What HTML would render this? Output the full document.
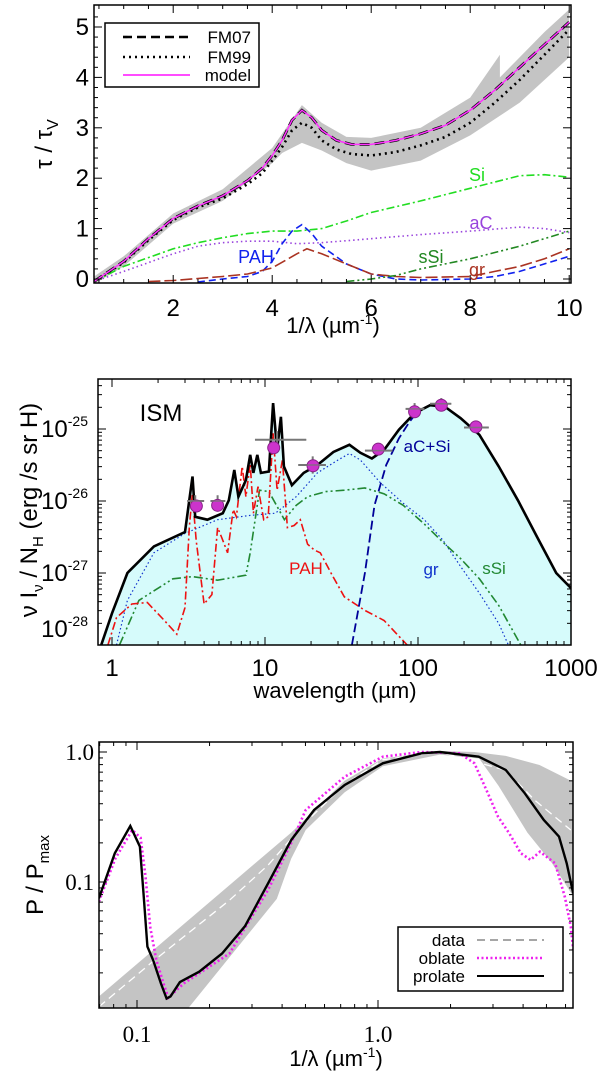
<!DOCTYPE html>
<html><head><meta charset="utf-8">
<style>
html,body{margin:0;padding:0;background:#fff;}
svg{display:block;font-family:"Liberation Sans",sans-serif;}
</style></head>
<body>
<svg id="fig" width="600" height="1076" viewBox="0 0 600 1076" xmlns="http://www.w3.org/2000/svg">
<defs>
<clipPath id="c1"><rect x="94" y="5" width="477" height="278"/></clipPath>
<clipPath id="c2"><rect x="98" y="379" width="473" height="266"/></clipPath>
<clipPath id="c3"><rect x="99" y="742" width="474" height="266"/></clipPath>
</defs>
<g id="p1"></g>
<g id="p2"></g>
<g id="p3"></g>
</svg>
<script>
// ---------- Panel 1 data ----------
const modelX = [0.4,1,1.5,2,2.5,3,3.5,3.8,4,4.2,4.4,4.6,4.8,5,5.3,5.6,6,6.5,7,7.5,8,8.5,9,9.5,10];
const modelY = [-0.05,0.35,0.8,1.2,1.45,1.65,1.95,2.2,2.45,2.75,3.15,3.35,3.2,2.95,2.75,2.67,2.67,2.75,2.88,3.05,3.35,3.75,4.2,4.65,5.1];
const fm99Y = [-0.05,0.33,0.77,1.17,1.42,1.6,1.88,2.1,2.35,2.62,2.95,3.1,3.0,2.75,2.57,2.48,2.45,2.52,2.65,2.82,3.1,3.5,3.95,4.45,4.95];
const bandUpX = [0.4,1,2,3,4,4.6,5,5.5,6,7,8,8.6,8.6,9,9.5,10];
const bandUpY = [0.05,0.45,1.3,1.78,2.6,3.45,3.1,2.82,2.8,3.0,3.6,4.45,4.0,4.4,4.9,5.35];
const bandLoX = [10,9,8,7,6,5.5,5,4.6,4.2,4,3,2,1,0.4];
const bandLoY = [4.4,3.5,2.85,2.35,2.15,2.3,2.55,2.7,2.5,2.3,1.55,1.1,0.25,-0.1];
const siX = [0.4,1,2,2.5,3,3.5,4,4.5,5,5.5,6,7,8,9,9.5,10];
const siY = [-0.05,0.25,0.6,0.72,0.82,0.9,0.95,0.95,1.0,1.15,1.32,1.55,1.8,2.05,2.07,2.02];
const acX = [0.4,1,2,2.5,3,3.5,4,4.5,5,6,7,8,9,9.5,10];
const acY = [-0.05,0.15,0.5,0.65,0.72,0.75,0.75,0.7,0.72,0.8,0.88,0.95,1.03,1.0,0.92];
const pahX = [2.5,3,3.5,3.8,4,4.2,4.4,4.6,4.8,5,5.5,6,6.5,7,8,8.5,9,9.5,10];
const pahY = [-0.06,0.0,0.05,0.15,0.35,0.7,0.95,1.08,0.9,0.65,0.3,0.1,0.0,-0.02,0.0,0.05,0.15,0.3,0.45];
const grX = [1.5,2,3,3.5,4,4.5,4.7,5,5.5,6,6.5,7,8,8.5,9,9.5,10];
const grY = [-0.05,-0.03,0.05,0.1,0.22,0.5,0.6,0.5,0.3,0.1,0.05,0.03,0.05,0.15,0.25,0.4,0.6];
const ssiX = [5.5,6,6.5,7,8,9,10];
const ssiY = [-0.05,0.0,0.07,0.2,0.4,0.65,0.95];
const p1XTicks = [2,4,6,8,10];
const p1YTicks = [0,1,2,3,4,5];

// ---------- Panel 2 data (log10 of flux) ----------
const totLam = [0.82,1.0,1.26,1.88,3.0,3.36,3.5,4.2,5.3,5.8,6.3,6.7,7.5,8.0,8.4,8.9,9.4,10.6,11.3,12,12.7,13.3,15,17.9,22,28,35.6,42,50,60,75,95,120,150,190,252,337,450,600,800,1000];
const totVal = [-28.1,-27.56,-27.0,-26.63,-26.43,-25.66,-26.22,-26.26,-26.17,-25.99,-25.57,-25.94,-25.71,-25.36,-25.61,-25.36,-25.61,-25.59,-24.64,-25.29,-24.83,-25.52,-25.78,-25.61,-25.5,-25.32,-25.22,-25.33,-25.41,-25.29,-25.01,-24.78,-24.67,-24.69,-24.85,-25.08,-25.52,-25.99,-26.5,-27.0,-27.21];
const grLam = [1.07,1.26,1.88,3.0,4.9,8,11.7,16,22,30,35.6,42,57,80,110,145,190,252,337,390];
const grVal = [-28,-27.38,-26.72,-26.45,-26.26,-26.2,-26.17,-25.94,-25.61,-25.43,-25.34,-25.43,-25.75,-26.03,-26.26,-26.54,-26.91,-27.28,-27.7,-28];
const ssiLam = [1.12,1.5,2.5,3.36,4.9,7.5,8,9.2,10.6,13.4,16,19,25,33,45,60,80,110,145,190,252,337,470];
const ssiVal = [-28,-27.38,-27.08,-27.05,-27.1,-27.03,-26.72,-25.85,-25.87,-26.26,-26.06,-25.94,-25.87,-25.85,-25.82,-25.9,-26.06,-26.32,-26.57,-26.8,-27.08,-27.45,-28];
const acsiLam = [37,45,52,62,75,88,100];
const acsiVal = [-28,-27.0,-26.06,-25.5,-25.13,-24.9,-24.75];
const pahLam = [0.94,1.07,1.35,1.7,2.2,2.65,3.0,3.2,3.35,3.55,4.0,4.5,4.9,5.2,5.7,6.2,6.5,7.1,7.5,8.0,8.4,9.0,9.8,10.5,11.3,12,13,14,15.5,17,19,21,23,27,33,45,60,85];
const pahVal = [-28,-27.62,-27.43,-27.41,-27.66,-27.85,-27.48,-26.37,-25.9,-26.55,-27.43,-27.3,-26.37,-26.5,-26.72,-26.12,-26.22,-25.52,-25.94,-25.48,-26.17,-25.8,-26.26,-26.22,-25.06,-25.85,-25.43,-26.37,-26.34,-26.26,-26.6,-26.68,-26.72,-27.0,-27.33,-27.52,-27.66,-28];
const obsLam = [3.5,4.9,12,20.5,55,95,142,240];
const obsVal = [-26.0,-26.0,-25.15,-25.5,-25.3,-24.72,-24.65,-24.98];
const obsLamLo = [3.1,4.4,8.6,16.5,45,83,120,200];
const obsLamHi = [4.0,5.5,18.6,25,68,110,165,290];
const obsErr = [0.08,0.08,0.12,0.12,0.03,0.08,0.08,0.08];
const modLam = [3.56,4.9,11.4,20.6,55,95,142,239];
const modVal = [-26.07,-26.06,-25.26,-25.51,-25.28,-24.76,-24.67,-24.97];
const p2XTicks = [1,10,100,1000];
const p2YTicks = [-28,-27,-26,-25];

// ---------- Panel 3 data (log10 values) ----------
const proX = [-1.158,-1.092,-1.028,-0.988,-0.973,-0.957,-0.933,-0.901,-0.877,-0.861,-0.822,-0.742,-0.647,-0.552,-0.456,-0.36,-0.265,-0.138,0.02,0.18,0.257,0.418,0.53,0.609,0.688,0.72,0.751,0.783,0.81];
const proY = [-1.125,-0.779,-0.569,-0.728,-1.087,-1.497,-1.6,-1.78,-1.896,-1.88,-1.77,-1.69,-1.55,-1.34,-1.01,-0.677,-0.446,-0.254,-0.087,-0.01,0.0,-0.036,-0.138,-0.318,-0.523,-0.587,-0.651,-0.856,-1.087];
const oblX = [-1.158,-1.09,-1.02,-0.985,-0.965,-0.945,-0.92,-0.89,-0.87,-0.806,-0.616,-0.456,-0.36,-0.3,-0.138,0.02,0.18,0.338,0.4,0.45,0.498,0.545,0.593,0.633,0.672,0.735,0.775,0.8,0.81];
const oblY = [-1.15,-0.82,-0.6,-0.66,-0.95,-1.35,-1.6,-1.78,-1.89,-1.78,-1.55,-1.06,-0.70,-0.446,-0.19,-0.036,0.0,-0.01,-0.087,-0.292,-0.497,-0.626,-0.779,-0.83,-0.767,-0.856,-1.113,-1.344,-1.52];
const datX = [-1.158,-0.933,-0.616,-0.456,-0.3,-0.138,0.02,0.257,0.53,0.65,0.8];
const datY = [-1.96,-1.61,-1.14,-0.87,-0.54,-0.25,-0.06,0.0,-0.14,-0.37,-0.6];
const b3UpX = [-1.158,-0.36,-0.138,0.02,0.257,0.40,0.53,0.67,0.81];
const b3UpY = [-1.88,-0.62,-0.22,-0.05,0.008,0.0,-0.03,-0.1,-0.23];
const b3LoX = [0.81,0.72,0.62,0.5,0.42,0.257,0.02,-0.138,-0.3,-0.36,-0.42,-0.822,-1.158];
const b3LoY = [-1.11,-0.85,-0.62,-0.26,-0.05,-0.02,-0.11,-0.31,-0.6,-0.82,-1.13,-2.05,-2.05];
const p3XTicks = [0.1,1.0];
const p3YTicks = [0.1,1.0];

// ---------- helpers ----------
const NS = "http://www.w3.org/2000/svg";
function mk(parent, tag, attrs){ const e=document.createElementNS(NS,tag); for(const k in attrs) e.setAttribute(k,attrs[k]); parent.appendChild(e); return e; }
function pathD(xs, ys, fx, fy){ let d=""; for(let i=0;i<xs.length;i++){ d+=(i?"L":"M")+fx(xs[i]).toFixed(1)+","+fy(ys[i]).toFixed(1); } return d; }
function txt(parent, x, y, s, size, anchor, fill, fam){ const t=mk(parent,"text",{x:x,y:y,"font-size":size,"text-anchor":anchor||"middle",fill:fill||"#000"}); if(fam) t.setAttribute("font-family",fam); t.textContent=s; return t; }

// ---------- Panel 1 ----------
const p1 = document.getElementById("p1");
const X1 = v => 94 + (v-0.4)*49.5;
const Y1 = v => 279 - v*50.4;
const g1 = mk(p1,"g",{"clip-path":"url(#c1)"});
let e;
e = mk(g1,"path",{d:pathD(bandUpX.concat(bandLoX), bandUpY.concat(bandLoY), X1, Y1)+"Z", fill:"#c4c4c4", stroke:"none"});


e = mk(g1,"path",{d:pathD(siX,siY,X1,Y1),fill:"none",stroke:"#22dd22","stroke-width":1.6,"stroke-dasharray":"8,3,2,3"});


e = mk(g1,"path",{d:pathD(acX,acY,X1,Y1),fill:"none",stroke:"#9944dd","stroke-width":1.6,"stroke-dasharray":"1.5,3"});


e = mk(g1,"path",{d:pathD(pahX,pahY,X1,Y1),fill:"none",stroke:"#1122ee","stroke-width":1.6,"stroke-dasharray":"7,4"});


e = mk(g1,"path",{d:pathD(grX,grY,X1,Y1),fill:"none",stroke:"#aa3322","stroke-width":1.6,"stroke-dasharray":"12,4"});


e = mk(g1,"path",{d:pathD(ssiX,ssiY,X1,Y1),fill:"none",stroke:"#228822","stroke-width":1.6,"stroke-dasharray":"8,3,2,3,2,3"});


e = mk(g1,"path",{d:pathD(modelX,fm99Y,X1,Y1),fill:"none",stroke:"#000","stroke-width":2.6,"stroke-dasharray":"2,4"});


e = mk(g1,"path",{d:pathD(modelX,modelY,X1,Y1),fill:"none",stroke:"#000","stroke-width":2.8,"stroke-dasharray":"10,5"});


e = mk(g1,"path",{d:pathD(modelX,modelY,X1,Y1),fill:"none",stroke:"#ff33ff","stroke-width":1.5});


e = mk(p1,"rect",{x:94,y:5,width:477,height:278,fill:"none",stroke:"#000","stroke-width":1.5});


for(let v=0.5; v<=10; v+=0.5){ const x=X1(v); const L=(Math.abs(v-Math.round(v/2)*2)<1e-6)?8:4; mk(p1,"line",{x1:x,y1:283,x2:x,y2:283-L,stroke:"#000","stroke-width":1}); mk(p1,"line",{x1:x,y1:5,x2:x,y2:5+L,stroke:"#000","stroke-width":1}); }
for(let v=0; v<=5.4; v+=0.2){ const y=Y1(v); const L=(Math.abs(v-Math.round(v))<1e-6)?8:4; mk(p1,"line",{x1:94,y1:y,x2:94+L,y2:y,stroke:"#000","stroke-width":1}); mk(p1,"line",{x1:571,y1:y,x2:571-L,y2:y,stroke:"#000","stroke-width":1}); }
p1XTicks.forEach(v=>{ e=txt(p1,X1(v),316,String(v),24);

 });
p1YTicks.forEach(v=>{ e=txt(p1,89,Y1(v)+8,String(v),24,"end");

 });
txt(p1,477,181,"Si",18,"middle","#22dd22");
txt(p1,481,229,"aC",18,"middle","#9944dd");
txt(p1,256,263,"PAH",18,"middle","#1122ee");
txt(p1,431,263,"sSi",18,"middle","#228822");
txt(p1,477,276,"gr",18,"middle","#aa3322");
</script>
<script>
(function(){
const p1=document.getElementById("p1");
const NS="http://www.w3.org/2000/svg";
const lg=document.createElementNS(NS,"g"); p1.appendChild(lg);


lg.innerHTML='<rect x="105" y="23" width="154" height="64" fill="#fff" stroke="#000" stroke-width="1.5"/>'+
'<line x1="123" y1="37" x2="190" y2="37" stroke="#000" stroke-width="2.6" stroke-dasharray="9,5"/>'+
'<text x="251" y="43" font-size="17" text-anchor="end">FM07</text>'+
'<line x1="123" y1="57" x2="190" y2="57" stroke="#000" stroke-width="2.4" stroke-dasharray="2,4"/>'+
'<text x="251" y="63" font-size="17" text-anchor="end">FM99</text>'+
'<line x1="123" y1="75" x2="190" y2="75" stroke="#ff33ff" stroke-width="1.8"/>'+
'<text x="251" y="81" font-size="17" text-anchor="end">model</text>';
const yt=document.createElementNS(NS,"text"); p1.appendChild(yt);


yt.setAttribute("transform","translate(52,144) rotate(-90)"); yt.setAttribute("text-anchor","middle"); yt.setAttribute("font-size","24");
yt.innerHTML='τ / τ<tspan font-size="16" dy="6">V</tspan>';
const xt=document.createElementNS(NS,"text"); p1.appendChild(xt);


xt.setAttribute("x","333"); xt.setAttribute("y","333"); xt.setAttribute("text-anchor","middle"); xt.setAttribute("font-size","22");
xt.innerHTML='1/λ (µm<tspan font-size="14" dy="-9">-1</tspan><tspan dy="9">)</tspan>';
})();
</script>
<script>
(function(){
const p2=document.getElementById("p2");
const X2 = l => 112 + 153*Math.log10(l);
const Y2 = v => 645 - (v+28)*72;
const g2 = mk(p2,"g",{"clip-path":"url(#c2)"});
let e;
const fd = pathD(totLam,totVal,X2,Y2) + "L"+X2(totLam[totLam.length-1])+",650L"+X2(totLam[0])+",650Z";
e = mk(g2,"path",{d:fd,fill:"#d6fbfb",stroke:"none"});


e = mk(g2,"path",{d:pathD(grLam,grVal,X2,Y2),fill:"none",stroke:"#1133cc","stroke-width":1.2,"stroke-dasharray":"1.5,2.5"});


e = mk(g2,"path",{d:pathD(ssiLam,ssiVal,X2,Y2),fill:"none",stroke:"#228833","stroke-width":1.6,"stroke-dasharray":"9,3,2,3,2,3"});


e = mk(g2,"path",{d:pathD(pahLam,pahVal,X2,Y2),fill:"none",stroke:"#ee1111","stroke-width":1.6,"stroke-dasharray":"8,3,2,3"});


e = mk(g2,"path",{d:pathD(acsiLam,acsiVal,X2,Y2),fill:"none",stroke:"#000099","stroke-width":1.8,"stroke-dasharray":"9,4"});


e = mk(g2,"path",{d:pathD(totLam,totVal,X2,Y2),fill:"none",stroke:"#000","stroke-width":2.6});


for(let i=0;i<obsLam.length;i++){
  e = mk(g2,"line",{x1:X2(obsLamLo[i]),y1:Y2(obsVal[i]),x2:X2(obsLamHi[i]),y2:Y2(obsVal[i]),stroke:"#777","stroke-width":2});
  
  
  e = mk(g2,"line",{x1:X2(obsLam[i]),y1:Y2(obsVal[i]-obsErr[i]),x2:X2(obsLam[i]),y2:Y2(obsVal[i]+obsErr[i]),stroke:"#777","stroke-width":2});
  
  
}
for(let i=0;i<modLam.length;i++){
  e = mk(g2,"circle",{cx:X2(modLam[i]),cy:Y2(modVal[i]),r:6,fill:"#cc33cc",stroke:"#882288","stroke-width":1});
  
  
}
for(let i=0;i<obsLam.length;i++){
  e = mk(g2,"line",{x1:X2(obsLamLo[i]),y1:Y2(obsVal[i]),x2:X2(obsLamHi[i]),y2:Y2(obsVal[i]),stroke:"#777","stroke-width":1.5,"stroke-opacity":0.8});
  
  
}
e = mk(p2,"rect",{x:98,y:379,width:473,height:266,fill:"none",stroke:"#000","stroke-width":1.5});


for(let d=0; d<3; d++){ for(let m=1;m<=9;m++){ const l=Math.pow(10,d)*m; const x=X2(l); if(x<98||x>571) continue; const L=m==1?8:4; mk(p2,"line",{x1:x,y1:645,x2:x,y2:645-L,stroke:"#000"}); mk(p2,"line",{x1:x,y1:379,x2:x,y2:379+L,stroke:"#000"}); } }
mk(p2,"line",{x1:X2(1000),y1:645,x2:X2(1000),y2:637,stroke:"#000"});
for(let d=-28; d<=-25; d++){ for(let m=1;m<=9;m++){ const v=d+Math.log10(m); const y=Y2(v); if(y<379||y>645) continue; const L=m==1?8:4; mk(p2,"line",{x1:98,y1:y,x2:98+L,y2:y,stroke:"#000"}); mk(p2,"line",{x1:571,y1:y,x2:571-L,y2:y,stroke:"#000"}); } }
p2XTicks.forEach(v=>{ e=txt(p2,X2(v),676,String(v),24);

 });
p2YTicks.forEach(v=>{ const y = v==-28 ? 637 : Y2(v)+8;
 e=mk(p2,"text",{x:88,y:y,"font-size":24,"text-anchor":"end"});
 e.innerHTML='10<tspan font-size="14" dy="-11">'+v+'</tspan>';
 
  });
txt(p2,161,421,"ISM",24);
txt(p2,427,452,"aC+Si",17,"middle","#000099");
txt(p2,306,574,"PAH",17,"middle","#ee1111");
txt(p2,431,575,"gr",17,"middle","#1133cc");
txt(p2,494,574,"sSi",17,"middle","#228833");
e=mk(p2,"text",{transform:"translate(37,510) rotate(-90)","font-size":24,"text-anchor":"middle"});
e.innerHTML='ν I<tspan font-size="15" dy="6">ν</tspan><tspan dy="-6"> / N</tspan><tspan font-size="15" dy="6">H</tspan><tspan dy="-6"> (erg /s sr H)</tspan>';


e=txt(p2,335,698,"wavelength (µm)",22);


})();
</script>
<script>
(function(){
const p3=document.getElementById("p3");
const X3 = lx => 378 + 241*lx;
const Y3 = ly => 752 - 130*ly;
const g3 = mk(p3,"g",{"clip-path":"url(#c3)"});
let e;
e = mk(g3,"path",{d:pathD(b3UpX.concat(b3LoX), b3UpY.concat(b3LoY), X3, Y3)+"Z", fill:"#c4c4c4", stroke:"none"});


e = mk(g3,"path",{d:pathD(datX,datY,X3,Y3),fill:"none",stroke:"#fff","stroke-width":1.3,"stroke-dasharray":"8,5"});


e = mk(g3,"path",{d:pathD(oblX,oblY,X3,Y3),fill:"none",stroke:"#ee22ee","stroke-width":2.6,"stroke-dasharray":"2,2.5"});


e = mk(g3,"path",{d:pathD(proX,proY,X3,Y3),fill:"none",stroke:"#000","stroke-width":2.4});


e = mk(p3,"rect",{x:99,y:742,width:474,height:266,fill:"none",stroke:"#000","stroke-width":1.5});


for(let d=-2; d<=0; d++){ for(let m=1;m<=9;m++){ const lx=d+Math.log10(m); const x=X3(lx); if(x<99||x>573) continue; const L=m==1?8:4; mk(p3,"line",{x1:x,y1:1008,x2:x,y2:1008-L,stroke:"#000"}); mk(p3,"line",{x1:x,y1:742,x2:x,y2:742+L,stroke:"#000"}); } }
for(let d=-2; d<=0; d++){ for(let m=1;m<=9;m++){ const ly=d+Math.log10(m); const y=Y3(ly); if(y<742||y>1008) continue; const L=m==1?8:4; mk(p3,"line",{x1:99,y1:y,x2:99+L,y2:y,stroke:"#000"}); mk(p3,"line",{x1:573,y1:y,x2:573-L,y2:y,stroke:"#000"}); } }
p3XTicks.forEach(v=>{ e=txt(p3,X3(Math.log10(v)),1042,v.toFixed(1),23,"middle","#000",'"Liberation Serif",serif');

 });
p3YTicks.forEach(v=>{ e=txt(p3,94,Y3(Math.log10(v))+8,v.toFixed(1),23,"end","#000",'"Liberation Serif",serif');

 });
const lg=mk(p3,"g",{});


lg.innerHTML='<rect x="398" y="927" width="165" height="64" fill="#fff" stroke="#000" stroke-width="1.5"/>'+
'<text x="465" y="946" font-size="17" text-anchor="end">data</text>'+
'<line x1="477" y1="940" x2="544" y2="940" stroke="#888" stroke-width="1.5" stroke-dasharray="8,5"/>'+
'<text x="465" y="964" font-size="17" text-anchor="end">oblate</text>'+
'<line x1="477" y1="958" x2="544" y2="958" stroke="#ee22ee" stroke-width="2.6" stroke-dasharray="2,2.5"/>'+
'<text x="465" y="982" font-size="17" text-anchor="end">prolate</text>'+
'<line x1="477" y1="976" x2="544" y2="976" stroke="#000" stroke-width="2"/>';
e=mk(p3,"text",{transform:"translate(43,875) rotate(-90)","font-size":24,"text-anchor":"middle"});
e.innerHTML='P / P<tspan font-size="15" dy="6">max</tspan>';


e=mk(p3,"text",{x:336,y:1066,"font-size":22,"text-anchor":"middle"});
e.innerHTML='1/λ (µm<tspan font-size="14" dy="-9">-1</tspan><tspan dy="9">)</tspan>';


})();
</script>
</body></html>
